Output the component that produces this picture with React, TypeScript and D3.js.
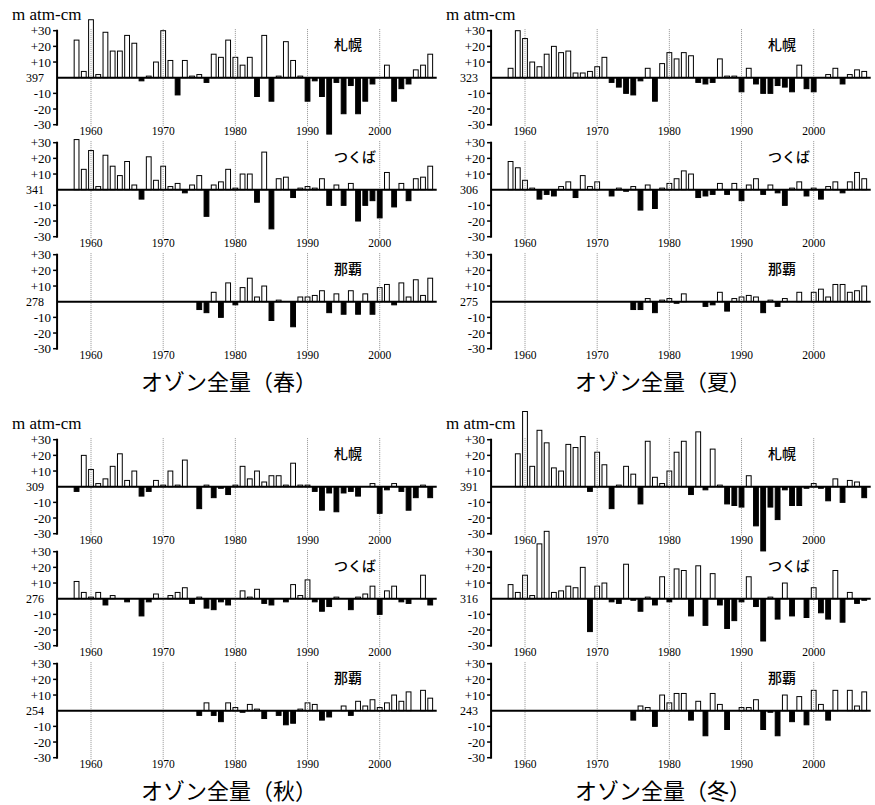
import React from "react"
import * as d3 from "d3"

// anomalies from the normal (m atm-cm), Sapporo / Tsukuba 1958-2007, Naha 1975-2007
const years = d3.range(1958, 2008)
const nahaYears = d3.range(1975, 2008)

const springSapporo = [
  24, 4, 37, 2, 29, 17, 17, 27, 22, -2,
  1, 10, 30, 11, -11, 11, 1, 2, -3, 15,
  13, 24, 13, 8, 13, -12, 27, -15, 1, 23,
  11, 1, -15, -2, -12, -36, -3, -23, -5, -23,
  -15, -4, 0, 8, -15, -7, -4, 5, 8, 15,
]
const springTsukuba = [
  32, 13, 25, 2, 22, 15, 9, 18, 3, -6,
  21, 6, 15, 2, 4, -2, 3, 9, -17, 3,
  5, 13, 1, 10, 10, -8, 24, -25, 7, 8,
  -5, 1, 2, 1, 7, -10, 3, -10, 4, -20,
  -10, -7, -18, 11, -11, 4, -7, 7, 8, 15,
]
const springNaha = [
  -5, -7, 6, -10, 12, -2, 9, 15, 3, 10,
  -12, 1, 0, -16, 3, 3, 4, 7, -7, 5,
  -8, 7, -8, 5, -8, 9, 11, -2, 12, 3,
  14, 4, 15,
]

const summerSapporo = [
  6, 30, 25, 10, 7, 15, 20, 16, 17, 3,
  3, 4, 7, 13, -3, -6, -10, -11, -2, 6,
  -15, 9, 16, 12, 16, 14, -3, -4, -3, 12,
  1, 1, -9, 6, -4, -10, -10, -5, -6, -9,
  8, -7, -9, 0, 2, 6, -4, 2, 5, 4,
]
const summerTsukuba = [
  18, 14, 6, 1, -6, -3, -4, 2, 5, -5,
  9, 2, 5, 0, -4, 1, -1, 2, -13, 3,
  -12, 1, 4, 7, 12, 10, -5, -4, -3, 4,
  -3, 4, -7, 3, 7, -3, 3, -2, -10, 1,
  5, -4, 1, -6, 2, 5, -2, 5, 11, 7,
]
const summerNaha = [
  -5, -5, 2, -7, 1, 2, -1, 5, 0, 0,
  -3, -2, 6, -6, 2, 3, 4, 3, -7, 1,
  -3, 2, 0, 6, 0, 6, 8, 3, 11, 11,
  6, 7, 10,
]

const autumnSapporo = [
  -3, 20, 11, 2, 5, 13, 21, 4, 10, -6,
  -3, 4, 1, 10, 1, 17, 0, -14, 1, -7,
  -1, -5, 1, 13, 5, 10, 3, 7, 7, 1,
  15, 1, 1, -3, -15, -4, -16, -4, -3, -6,
  0, 2, -17, -2, 2, -3, -15, -7, 1, -7,
]
const autumnTsukuba = [
  11, 4, 1, 4, -4, 2, 0, -2, 0, -11,
  -2, 3, 0, 2, 4, 7, -3, 1, -6, -7,
  -2, -4, 0, 5, 1, 6, -3, -4, 0, -2,
  9, 2, 12, -2, -8, -5, 1, 0, -7, 1,
  3, 8, -10, 5, 8, -2, -3, 0, 15, -4,
]
const autumnNaha = [
  -3, 5, -3, -7, 5, 2, -1, 4, 1, -5,
  0, -3, -9, -8, 1, 5, 4, -6, -4, 0,
  3, -3, 6, 3, 7, 2, 5, 10, 6, 12,
  0, 13, 8,
]

const winterSapporo = [
  0, 21, 48, 13, 36, 28, 12, 10, 27, 25,
  32, -3, 22, 14, -14, 1, 13, 8, -11, 29,
  6, 2, 10, 22, 29, -5, 35, -2, 24, 1,
  -11, -12, -13, 7, -25, -41, -13, -21, -2, -12,
  -12, -1, 2, -1, -9, 5, -10, 4, 3, -7,
]
const winterTsukuba = [
  9, 4, 15, 2, 35, 43, 4, 5, 8, 7,
  20, -21, 8, 10, -2, -3, 22, -1, -8, 1,
  -4, 14, -2, 19, 18, -11, 21, -17, 16, -4,
  -19, -14, -2, 14, -5, -27, 1, -13, 10, -11,
  0, -12, 7, -9, -13, 18, -15, 4, -3, -1,
]
const winterNaha = [
  -6, 3, 2, -10, 10, 5, 11, 11, -6, 6,
  -16, 11, 4, -12, 0, 2, 2, 7, -12, -1,
  -16, 10, -7, 9, -9, 13, 4, -6, 13, 0,
  13, 3, 12,
]

const stationNames = ["札幌", "つくば", "那覇"]
const seasonTitles = ["オゾン全量（春）", "オゾン全量（夏）", "オゾン全量（秋）", "オゾン全量（冬）"]
const normals = [
  [397, 341, 278],
  [323, 306, 275],
  [309, 276, 254],
  [391, 316, 243],
]
const seasonSeries = [
  [springSapporo, springTsukuba, springNaha],
  [summerSapporo, summerTsukuba, summerNaha],
  [autumnSapporo, autumnTsukuba, autumnNaha],
  [winterSapporo, winterTsukuba, winterNaha],
]
const yTicks = [30, 20, 10, -10, -20, -30]
const decades = [1960, 1970, 1980, 1990, 2000]

const W = 875
const H = 805
const offsets = [[0, 0], [434, 0], [0, 409], [434, 409]]
const serif = { fontFamily: "'Liberation Serif', 'Times New Roman', serif" }
const cjk = { fontFamily: "'Noto Sans CJK JP', 'Noto Sans', sans-serif" }

const x = d3.scaleLinear().domain([1960, 2000]).range([91, 379.7])
const axisX = x(1955.3)
const endX = x(2007.9)
const barW = 4.8

function Station({ idx, normal, values }) {
  const base = 77.7 + 112 * idx
  const y = d3.scaleLinear().domain([-30, 30]).range([base + 47, base - 47])
  const yrs = idx === 2 ? nahaYears : years
  const bar = (v, i) => (
    <rect
      key={i}
      x={x(yrs[i]) - barW / 2}
      y={y(Math.max(v, 0))}
      width={barW}
      height={Math.abs(y(v) - y(0))}
      fill={v > 0 ? "#fff" : "#000"}
      stroke="#000"
      strokeWidth={1}
    />
  )
  return (
    <g>
      {values.map((v, i) => (v > 0 ? bar(v, i) : null))}
      {decades.map(d => (
        <line key={d} x1={x(d)} x2={x(d)} y1={y(31)} y2={y(-31)}
          stroke="#777" strokeWidth={0.8} strokeDasharray="1 1" />
      ))}
      {values.map((v, i) => (v < 0 ? bar(v, i) : null))}
      <line x1={axisX} x2={endX} y1={y(0)} y2={y(0)} stroke="#000" strokeWidth={2} />
      <line x1={axisX} x2={axisX} y1={y(30) - 1} y2={y(-30) + 1} stroke="#000" strokeWidth={2} />
      {yTicks.map(t => (
        <g key={t}>
          <line x1={axisX - 4} x2={axisX} y1={y(t)} y2={y(t)} stroke="#000" strokeWidth={1.5} />
          <text x={axisX - 6} y={y(t) + 4.5} textAnchor="end" style={serif} fontSize={13}>
            {(t > 0 ? "+" : "") + t}
          </text>
        </g>
      ))}
      <text x={axisX - 13} y={y(0) + 4} textAnchor="end" style={serif} fontSize={12}>
        {normal}
      </text>
      {decades.map(d => (
        <text key={d} x={x(d)} y={y(0) + 57} textAnchor="middle" style={serif} fontSize={11.5}>
          {d}
        </text>
      ))}
      <text x={334} y={base - 28} style={cjk} fontSize={14} fontWeight={500}>
        {stationNames[idx]}
      </text>
    </g>
  )
}

function Season({ s }) {
  const [dx, dy] = offsets[s]
  return (
    <g transform={`translate(${dx},${dy})`}>
      <text x={12} y={20} style={serif} fontSize={17}>m atm-cm</text>
      {seasonSeries[s].map((vals, i) => (
        <Station key={i} idx={i} normal={normals[s][i]} values={vals} />
      ))}
      <text x={229} y={390} textAnchor="middle" style={cjk} fontSize={22}>
        {seasonTitles[s]}
      </text>
    </g>
  )
}

export default function App() {
  return (
    <svg width={W} height={H} style={{ position: "absolute", left: 0, top: 0, background: "#fff" }}>
      {[0, 1, 2, 3].map(s => <Season key={s} s={s} />)}
    </svg>
  )
}
